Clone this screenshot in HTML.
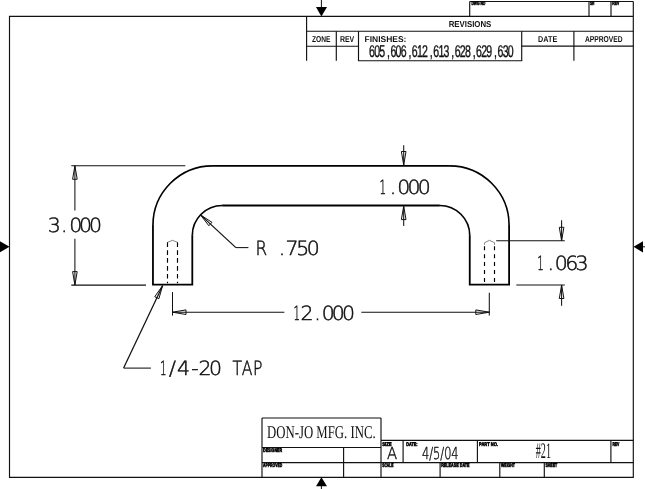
<!DOCTYPE html>
<html lang="en">
<head>
<meta charset="utf-8">
<title>DON-JO MFG. INC. - #21</title>
<style>
html,body{margin:0;padding:0;background:#fff;}
body{width:645px;height:489px;overflow:hidden;}
svg{display:block;}
text{white-space:pre;text-rendering:geometricPrecision;}
</style>
</head>
<body>
<svg width="645" height="489" viewBox="0 0 645 489">
<rect width="645" height="489" fill="#fff"/>
<g fill="none" stroke-linecap="butt">
<path d="M633.3,1.5 V477.3 H9.5 V16.4 H633.3" fill="none" stroke="#111" stroke-width="1.15" stroke-linejoin="miter"/>
<polygon points="0,241.3 9.5,246.8 0,252.3" fill="#000"/>
<polygon points="643,241.2 633.5,246.8 643,252.4" fill="#000"/>
<line x1="643.00" y1="246.80" x2="645.00" y2="246.80" stroke="#111" stroke-width="1" />
<polygon points="316,7.1 327,7.1 321.4,16.6" fill="#000"/>
<line x1="321.40" y1="0.00" x2="321.40" y2="8.00" stroke="#111" stroke-width="1" />
<polygon points="316,486.3 327,486.3 321.4,477.3" fill="#000"/>
<line x1="321.40" y1="486.00" x2="321.40" y2="489.00" stroke="#111" stroke-width="1" />
<line x1="469.70" y1="1.50" x2="633.30" y2="1.50" stroke="#111" stroke-width="1.15" />
<line x1="469.70" y1="1.50" x2="469.70" y2="16.40" stroke="#111" stroke-width="1.15" />
<line x1="589.00" y1="1.50" x2="589.00" y2="16.40" stroke="#111" stroke-width="1.15" />
<line x1="611.00" y1="1.50" x2="611.00" y2="16.40" stroke="#111" stroke-width="1.15" />
<line x1="306.60" y1="16.40" x2="306.60" y2="60.70" stroke="#111" stroke-width="1.15" />
<line x1="306.60" y1="31.20" x2="633.30" y2="31.20" stroke="#111" stroke-width="1.15" />
<line x1="306.60" y1="46.20" x2="358.50" y2="46.20" stroke="#111" stroke-width="1.15" />
<line x1="521.70" y1="46.10" x2="633.30" y2="46.10" stroke="#111" stroke-width="1.15" />
<line x1="336.30" y1="31.20" x2="336.30" y2="60.80" stroke="#111" stroke-width="1.15" />
<line x1="358.50" y1="31.20" x2="358.50" y2="60.80" stroke="#111" stroke-width="1.15" />
<line x1="521.70" y1="31.20" x2="521.70" y2="60.80" stroke="#111" stroke-width="1.15" />
<line x1="573.90" y1="31.20" x2="573.90" y2="60.80" stroke="#111" stroke-width="1.15" />
<line x1="357.95" y1="60.75" x2="522.25" y2="60.75" stroke="#111" stroke-width="1.15" />
<line x1="262.00" y1="418.00" x2="381.00" y2="418.00" stroke="#111" stroke-width="1.15" />
<line x1="262.00" y1="418.00" x2="262.00" y2="477.30" stroke="#111" stroke-width="1.15" />
<line x1="381.00" y1="418.00" x2="381.00" y2="477.30" stroke="#111" stroke-width="1.15" />
<line x1="262.00" y1="447.50" x2="381.00" y2="447.50" stroke="#111" stroke-width="1.15" />
<line x1="262.00" y1="462.65" x2="633.30" y2="462.65" stroke="#111" stroke-width="1.15" />
<line x1="343.60" y1="447.50" x2="343.60" y2="477.30" stroke="#111" stroke-width="1.15" />
<line x1="381.00" y1="440.30" x2="633.30" y2="440.30" stroke="#111" stroke-width="1.15" />
<line x1="403.10" y1="440.30" x2="403.10" y2="462.65" stroke="#111" stroke-width="1.15" />
<line x1="477.40" y1="440.30" x2="477.40" y2="462.65" stroke="#111" stroke-width="1.15" />
<line x1="610.90" y1="440.30" x2="610.90" y2="462.65" stroke="#111" stroke-width="1.15" />
<line x1="440.10" y1="462.65" x2="440.10" y2="477.30" stroke="#111" stroke-width="1.15" />
<line x1="499.80" y1="462.65" x2="499.80" y2="477.30" stroke="#111" stroke-width="1.15" />
<line x1="544.30" y1="462.65" x2="544.30" y2="477.30" stroke="#111" stroke-width="1.15" />
<path d="M152.95,225.35 V284.68 H192.3 V235.5 M222.3,205.5 H439.75 M469.75,235.5 V284.68 H509.1 V225.35 M449.6,165.85 H212.45" fill="none" stroke="#000" stroke-width="1.8" stroke-linejoin="miter" stroke-linecap="butt"/>
<path d="M152.95,225.65 V225.35 A59.5,59.5 0 0 1 212.45,165.85 h0.3 M449.3,165.85 h0.3 A59.5,59.5 0 0 1 509.1,225.35 v0.3 M469.75,235.8 v-0.3 A30.0,30.0 0 0 0 439.75,205.5 h-0.3 M222.60000000000002,205.5 h-0.3 A30.0,30.0 0 0 0 192.3,235.5 v0.3" fill="none" stroke="#000" stroke-width="1.65" stroke-linejoin="round"/>
<line x1="167.50" y1="242.30" x2="167.50" y2="283.20" stroke="#000" stroke-width="1.15" stroke-dasharray="4.7 3.2"/>
<line x1="177.50" y1="242.30" x2="177.50" y2="283.20" stroke="#000" stroke-width="1.15" stroke-dasharray="4.7 3.2"/>
<polyline points="167.5,242.3 172.5,240.3 177.5,242.3" fill="none" stroke="#444" stroke-width="0.65"/>
<line x1="484.50" y1="246.30" x2="484.50" y2="283.00" stroke="#000" stroke-width="1.15" stroke-dasharray="4 3.9"/>
<line x1="494.50" y1="246.30" x2="494.50" y2="283.00" stroke="#000" stroke-width="1.15" stroke-dasharray="4 3.9"/>
<line x1="484.50" y1="242.70" x2="484.50" y2="245.00" stroke="#888" stroke-width="0.9" />
<line x1="494.50" y1="242.70" x2="494.50" y2="245.00" stroke="#888" stroke-width="0.9" />
<polyline points="484.5,242.7 489.5,240.3 494.5,242.7" fill="none" stroke="#444" stroke-width="0.65"/>
<line x1="71.30" y1="165.75" x2="185.30" y2="165.75" stroke="#111" stroke-width="1.05" />
<line x1="71.30" y1="285.10" x2="146.00" y2="285.10" stroke="#111" stroke-width="1.05" />
<line x1="74.90" y1="165.75" x2="74.90" y2="210.60" stroke="#111" stroke-width="1.05" />
<line x1="74.90" y1="238.70" x2="74.90" y2="285.10" stroke="#111" stroke-width="1.05" />
<polygon points="74.90,165.75 77.20,179.25 72.60,179.25" fill="none" stroke="#111" stroke-width="1.0" stroke-linejoin="miter"/>
<polygon points="74.90,285.10 72.60,271.60 77.20,271.60" fill="none" stroke="#111" stroke-width="1.0" stroke-linejoin="miter"/>
<line x1="403.70" y1="145.20" x2="403.70" y2="165.80" stroke="#111" stroke-width="1.05" />
<polygon points="403.70,165.00 401.40,151.50 406.00,151.50" fill="none" stroke="#111" stroke-width="1.0" stroke-linejoin="miter"/>
<line x1="403.70" y1="205.30" x2="403.70" y2="226.10" stroke="#111" stroke-width="1.05" />
<polygon points="403.70,206.10 406.00,219.60 401.40,219.60" fill="none" stroke="#111" stroke-width="1.0" stroke-linejoin="miter"/>
<line x1="496.20" y1="240.80" x2="564.80" y2="240.80" stroke="#111" stroke-width="1.05" />
<line x1="516.30" y1="285.05" x2="564.80" y2="285.05" stroke="#111" stroke-width="1.05" />
<line x1="561.60" y1="220.30" x2="561.60" y2="240.80" stroke="#111" stroke-width="1.05" />
<polygon points="561.60,240.80 559.30,227.30 563.90,227.30" fill="none" stroke="#111" stroke-width="1.0" stroke-linejoin="miter"/>
<line x1="561.60" y1="285.00" x2="561.60" y2="305.80" stroke="#111" stroke-width="1.05" />
<polygon points="561.60,285.00 563.90,298.50 559.30,298.50" fill="none" stroke="#111" stroke-width="1.0" stroke-linejoin="miter"/>
<line x1="172.50" y1="292.10" x2="172.50" y2="315.60" stroke="#111" stroke-width="1.05" />
<line x1="489.30" y1="292.70" x2="489.30" y2="315.60" stroke="#111" stroke-width="1.05" />
<line x1="172.50" y1="312.20" x2="284.40" y2="312.20" stroke="#111" stroke-width="1.05" />
<line x1="361.30" y1="312.20" x2="489.30" y2="312.20" stroke="#111" stroke-width="1.05" />
<polygon points="172.50,312.20 186.00,309.90 186.00,314.50" fill="none" stroke="#111" stroke-width="1.0" stroke-linejoin="miter"/>
<polygon points="489.30,312.20 475.80,314.50 475.80,309.90" fill="none" stroke="#111" stroke-width="1.0" stroke-linejoin="miter"/>
<line x1="200.50" y1="214.90" x2="235.90" y2="247.60" stroke="#111" stroke-width="1.25" />
<line x1="235.90" y1="247.60" x2="248.40" y2="247.60" stroke="#111" stroke-width="1.05" />
<polygon points="200.50,214.90 211.98,222.37 208.86,225.75" fill="none" stroke="#111" stroke-width="1.0" stroke-linejoin="miter"/>
<line x1="162.60" y1="285.70" x2="123.60" y2="368.10" stroke="#111" stroke-width="1.25" />
<line x1="123.60" y1="368.10" x2="150.90" y2="368.10" stroke="#111" stroke-width="1.05" />
<polygon points="162.60,285.50 158.92,298.69 154.76,296.73" fill="none" stroke="#111" stroke-width="1.0" stroke-linejoin="miter"/>
</g>
<g opacity="0.999">
<text aria-label="3.000" transform="scale(1.05,1)" font-family="'DejaVu Sans Light','DejaVu Sans','Liberation Sans',sans-serif" font-weight="200" font-size="19.5" text-anchor="middle" x="51.62 61.29 72.10 81.52 91.10" y="232.0" fill="#111" stroke="#111" stroke-width="0.5">3.000</text>
<text aria-label="1.000" transform="scale(1.05,1)" font-family="'DejaVu Sans Light','DejaVu Sans','Liberation Sans',sans-serif" font-weight="200" font-size="19.5" text-anchor="middle" x="364.57 374.29 384.57 394.33 404.10" y="193.8" fill="#111" stroke="#111" stroke-width="0.5"><tspan textLength="6.20" lengthAdjust="spacingAndGlyphs">1</tspan>.000</text>
<text aria-label="R" transform="scale(0.86,1)" font-family="'DejaVu Sans Light','DejaVu Sans','Liberation Sans',sans-serif" font-weight="200" font-size="19.5" text-anchor="middle" x="304.01" y="255.1" fill="#111" stroke="#111" stroke-width="0.5">R</text>
<text aria-label=".750" transform="scale(1.05,1)" font-family="'DejaVu Sans Light','DejaVu Sans','Liberation Sans',sans-serif" font-weight="200" font-size="19.5" text-anchor="middle" x="268.57 278.14 288.33 298.43" y="255.1" fill="#111" stroke="#111" stroke-width="0.5">.750</text>
<text aria-label="1.063" transform="scale(1.05,1)" font-family="'DejaVu Sans Light','DejaVu Sans','Liberation Sans',sans-serif" font-weight="200" font-size="19.5" text-anchor="middle" x="514.67 524.48 534.57 544.52 554.24" y="270.35" fill="#111" stroke="#111" stroke-width="0.5"><tspan textLength="6.20" lengthAdjust="spacingAndGlyphs">1</tspan>.063</text>
<text aria-label="12.000" transform="scale(1.05,1)" font-family="'DejaVu Sans Light','DejaVu Sans','Liberation Sans',sans-serif" font-weight="200" font-size="19.5" text-anchor="middle" x="282.67 292.38 302.38 312.62 322.24 331.86" y="319.7" fill="#111" stroke="#111" stroke-width="0.5"><tspan textLength="6.20" lengthAdjust="spacingAndGlyphs">1</tspan>2.000</text>
<text aria-label="1/4-20" transform="scale(1.05,1)" font-family="'DejaVu Sans Light','DejaVu Sans','Liberation Sans',sans-serif" font-weight="200" font-size="19.5" text-anchor="middle" x="155.52 164.19 174.76 185.71 195.33 205.24" y="375.4" fill="#111" stroke="#111" stroke-width="0.5"><tspan textLength="6.20" lengthAdjust="spacingAndGlyphs">1</tspan>/4-20</text>
<text aria-label="TAP" transform="scale(0.8,1)" font-family="'DejaVu Sans Light','DejaVu Sans','Liberation Sans',sans-serif" font-weight="200" font-size="19.5" text-anchor="middle" x="296.50 308.75 322.00" y="375.4" fill="#111" stroke="#111" stroke-width="0.5">TAP</text>
<text x="448.7" y="26.85" font-family="'Liberation Sans',sans-serif" font-size="8.6" font-weight="bold" textLength="42.6" lengthAdjust="spacingAndGlyphs" fill="#111" >REVISIONS</text>
<text x="312.0" y="41.95" font-family="'Liberation Sans',sans-serif" font-size="8.55" font-weight="bold" textLength="18.5" lengthAdjust="spacingAndGlyphs" fill="#111" >ZONE</text>
<text x="339.9" y="41.95" font-family="'Liberation Sans',sans-serif" font-size="8.55" font-weight="bold" textLength="14.4" lengthAdjust="spacingAndGlyphs" fill="#111" >REV</text>
<text x="364.6" y="41.95" font-family="'Liberation Sans',sans-serif" font-size="8.55" font-weight="bold" textLength="41.8" lengthAdjust="spacingAndGlyphs" fill="#111" >FINISHES:</text>
<text x="538.1" y="42.05" font-family="'Liberation Sans',sans-serif" font-size="8.55" font-weight="bold" textLength="19.1" lengthAdjust="spacingAndGlyphs" fill="#111" >DATE</text>
<text x="584.9" y="42.05" font-family="'Liberation Sans',sans-serif" font-size="8.55" font-weight="bold" textLength="37.6" lengthAdjust="spacingAndGlyphs" fill="#111" >APPROVED</text>
<text transform="scale(0.62,1)" font-family="'Liberation Sans',sans-serif" font-size="17" font-weight="normal" text-anchor="middle" x="599.92 608.18 616.44 626.61 634.47 642.73 650.98 661.16 669.02 677.27 685.53 695.71 703.56 711.82 720.08 730.26 738.11 746.37 754.63 764.81 772.66 780.92 789.18 799.35 807.21 815.47 823.73" y="56.6" fill="#111" stroke="#111" stroke-width="0.4">605,606,612,613,628,629,630</text>
<text x="471.4" y="5.3" font-family="'Liberation Sans',sans-serif" font-size="5.3" font-weight="bold" textLength="14" lengthAdjust="spacingAndGlyphs" fill="#000" stroke="#000" stroke-width="0.55">DWG NO</text>
<text x="590" y="5.3" font-family="'Liberation Sans',sans-serif" font-size="5.3" font-weight="bold" textLength="4.4" lengthAdjust="spacingAndGlyphs" fill="#000" stroke="#000" stroke-width="0.55">SH</text>
<text x="612.2" y="5.3" font-family="'Liberation Sans',sans-serif" font-size="5.3" font-weight="bold" textLength="7" lengthAdjust="spacingAndGlyphs" fill="#000" stroke="#000" stroke-width="0.55">REV</text>
<text x="267" y="437.9" font-family="'Liberation Serif',serif" font-size="18" textLength="108.6" lengthAdjust="spacingAndGlyphs" fill="#111">DON-JO MFG. INC.</text>
<text x="263" y="452.2" font-family="'Liberation Sans',sans-serif" font-size="5.3" font-weight="bold" textLength="19.2" lengthAdjust="spacingAndGlyphs" fill="#000" stroke="#000" stroke-width="0.55">DESIGNER</text>
<text x="263" y="467.4" font-family="'Liberation Sans',sans-serif" font-size="5.3" font-weight="bold" textLength="19.2" lengthAdjust="spacingAndGlyphs" fill="#000" stroke="#000" stroke-width="0.55">APPROVED</text>
<text x="382.2" y="445.5" font-family="'Liberation Sans',sans-serif" font-size="5.3" font-weight="bold" textLength="9.5" lengthAdjust="spacingAndGlyphs" fill="#000" stroke="#000" stroke-width="0.55">SIZE</text>
<text x="406.2" y="445.5" font-family="'Liberation Sans',sans-serif" font-size="5.3" font-weight="bold" textLength="11.3" lengthAdjust="spacingAndGlyphs" fill="#000" stroke="#000" stroke-width="0.55">DATE:</text>
<text x="479" y="445.5" font-family="'Liberation Sans',sans-serif" font-size="5.3" font-weight="bold" textLength="19" lengthAdjust="spacingAndGlyphs" fill="#000" stroke="#000" stroke-width="0.55">PART NO.</text>
<text x="612.4" y="445.5" font-family="'Liberation Sans',sans-serif" font-size="5.3" font-weight="bold" textLength="7" lengthAdjust="spacingAndGlyphs" fill="#000" stroke="#000" stroke-width="0.55">REV</text>
<text x="382.2" y="467.4" font-family="'Liberation Sans',sans-serif" font-size="5.3" font-weight="bold" textLength="11.4" lengthAdjust="spacingAndGlyphs" fill="#000" stroke="#000" stroke-width="0.55">SCALE</text>
<text x="441.2" y="467.4" font-family="'Liberation Sans',sans-serif" font-size="5.3" font-weight="bold" textLength="28.4" lengthAdjust="spacingAndGlyphs" fill="#000" stroke="#000" stroke-width="0.55">RELEASE DATE</text>
<text x="501" y="467.4" font-family="'Liberation Sans',sans-serif" font-size="5.3" font-weight="bold" textLength="14" lengthAdjust="spacingAndGlyphs" fill="#000" stroke="#000" stroke-width="0.55">WEIGHT</text>
<text x="545.4" y="467.4" font-family="'Liberation Sans',sans-serif" font-size="5.3" font-weight="bold" textLength="11.8" lengthAdjust="spacingAndGlyphs" fill="#000" stroke="#000" stroke-width="0.55">SHEET</text>
<text x="386.9" y="459.3" font-family="'DejaVu Sans Light','DejaVu Sans','Liberation Sans',sans-serif" font-size="16.6" font-weight="200" textLength="10.2" lengthAdjust="spacingAndGlyphs" fill="#111" stroke="#111" stroke-width="0.45">A</text>
<text x="422" y="459.3" font-family="'DejaVu Sans Light','DejaVu Sans','Liberation Sans',sans-serif" font-size="16.6" font-weight="200" textLength="36.6" lengthAdjust="spacingAndGlyphs" fill="#111" stroke="#111" stroke-width="0.45">4/5/04</text>
<text x="535.7" y="457.9" font-family="'Liberation Serif',serif" font-size="22.3" font-weight="normal" textLength="15.3" lengthAdjust="spacingAndGlyphs" fill="#111" >#21</text>
</g>
</svg>
</body>
</html>
